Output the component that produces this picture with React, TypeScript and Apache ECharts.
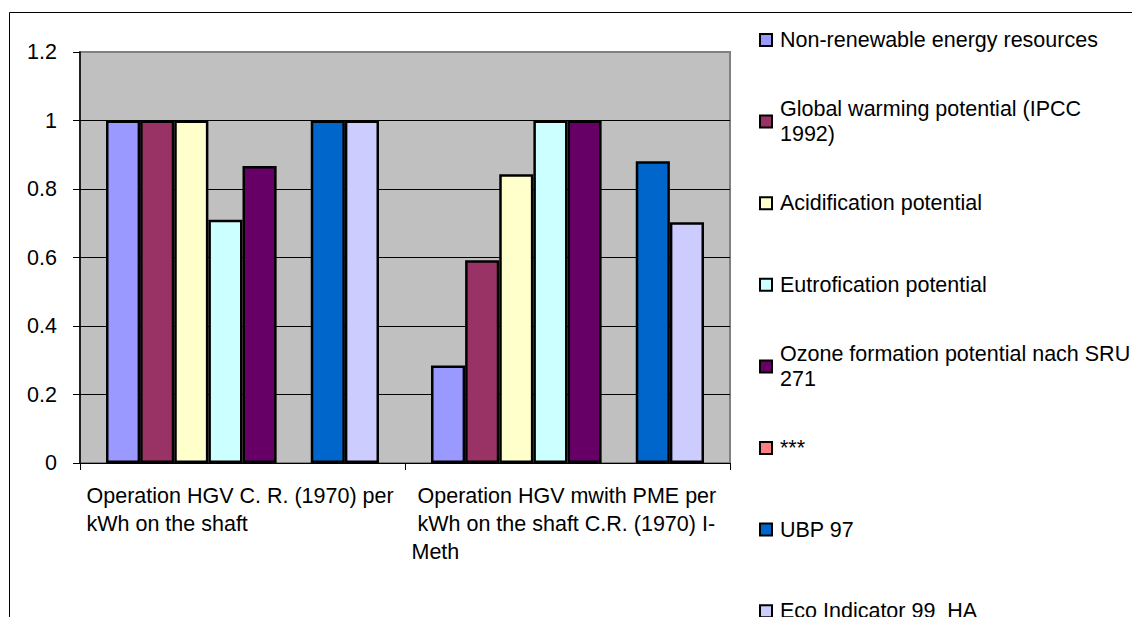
import React, { useEffect, useRef } from "react";
import * as echarts from "echarts";

const categories = [
  "Operation HGV C. R. (1970) per kWh on the shaft",
  "Operation HGV mwith PME per kWh on the shaft C.R. (1970) I-Meth",
];
const categoryLines = [
  ["Operation HGV C. R. (1970) per", "kWh on the shaft"],
  [" Operation HGV mwith PME per", " kWh on the shaft C.R. (1970) I-", "Meth"],
];

const seriesNames = [
  "Non-renewable energy resources",
  "Global warming potential (IPCC 1992)",
  "Acidification potential",
  "Eutrofication potential",
  "Ozone formation potential nach SRU 271",
  "***",
  "UBP 97",
  "Eco Indicator 99  HA",
];
const legendLines = [
  ["Non-renewable energy resources"],
  ["Global warming potential (IPCC", "1992)"],
  ["Acidification potential"],
  ["Eutrofication potential"],
  ["Ozone formation potential nach SRU", "271"],
  ["***"],
  ["UBP 97"],
  ["Eco Indicator 99  HA"],
];
const seriesColors = ["#9999FF", "#993366", "#FFFFCC", "#CCFFFF", "#660066", "#FF8080", "#0066CC", "#CCCCFF"];

const nonRenewable = [1, 0.285];
const globalWarming = [1, 0.592];
const acidification = [1, 0.843];
const eutrofication = [0.71, 1];
const ozoneFormation = [0.867, 1];
const stars: (number | null)[] = [null, null];
const ubp97 = [1, 0.881];
const ecoIndicator = [1, 0.703];
const seriesValues = [nonRenewable, globalWarming, acidification, eutrofication, ozoneFormation, stars, ubp97, ecoIndicator];

const yMin = 0;
const yMax = 1.2;
const yInterval = 0.2;

const FONT = "'Liberation Sans', Arial, sans-serif";
const FS = 21.5;

export default function App() {
  const ref = useRef<HTMLDivElement>(null);
  useEffect(() => {
    if (!ref.current) return;
    const chart = echarts.init(ref.current, null, { renderer: "svg" });
    const option: any = {
      animation: false,
      backgroundColor: "#fff",
      textStyle: { fontFamily: FONT, color: "#000" },
      graphic: [
        {
          type: "rect",
          silent: true,
          z: -10,
          shape: { x: 9.5, y: 12.5, width: 1400, height: 900 },
          style: { fill: "none", stroke: "#000", lineWidth: 1 },
        },
      ],
      grid: {
        left: 80,
        right: 402,
        top: 52,
        bottom: 154,
        show: true,
        backgroundColor: "#C0C0C0",
        borderColor: "#808080",
        borderWidth: 2,
      },
      legend: {
        type: "plain",
        orient: "vertical",
        left: 759,
        top: 2.5,
        width: 373,
        height: 1000,
        padding: 0,
        itemGap: 6.6,
        itemWidth: 12,
        itemHeight: 12,
        icon: "rect",
        selectedMode: false,
        itemStyle: { borderColor: "#000", borderWidth: 2 },
        data: seriesNames.map((n, i) => ({
          name: n,
          textStyle: {
            padding: legendLines[i].length === 2 ? [25, 0, 0, 3] : [25, 0, 25, 3],
          },
        })),
        formatter: (name: string) => legendLines[seriesNames.indexOf(name)].join("\n"),
        textStyle: { fontFamily: FONT, fontSize: FS, lineHeight: 25, color: "#000" },
      },
      xAxis: {
        type: "category",
        data: categories,
        axisLine: { show: true, lineStyle: { color: "#000", width: 1 } },
        axisTick: { show: true, alignWithLabel: false, length: 7, interval: 0, lineStyle: { color: "#000" } },
        splitLine: { show: false },
        axisLabel: {
          interval: 0,
          margin: 19,
          width: 312,
          align: "center",
          verticalAlign: "top",
          formatter: (_v: string, idx: number) =>
            categoryLines[idx]
              .map((l) => (l.startsWith(" ") ? `{b|${l.trim()}}` : `{a|${l}}`))
              .join("\n"),
          rich: {
            a: { align: "left", fontFamily: FONT, fontSize: FS, lineHeight: 28, color: "#000" },
            b: { align: "left", fontFamily: FONT, fontSize: FS, lineHeight: 28, color: "#000", padding: [0, 0, 0, 6] },
          },
        },
      },
      yAxis: {
        type: "value",
        min: yMin,
        max: yMax,
        interval: yInterval,
        axisLine: { show: true, lineStyle: { color: "#000", width: 1.5 } },
        axisTick: { show: true, length: 7, lineStyle: { color: "#000" } },
        axisLabel: { fontFamily: FONT, fontSize: FS, color: "#000", margin: 23 },
        splitLine: { show: true, showMinLine: false, showMaxLine: false, lineStyle: { color: "#000", width: 1 } },
      },
      series: seriesNames.map((n, i) => ({
        name: n,
        type: "bar",
        barGap: "0%",
        barCategoryGap: "16%",
        data: seriesValues[i],
        itemStyle: { color: seriesColors[i], borderColor: "#000", borderWidth: 2.5 },
        emphasis: { disabled: true },
      })),
    };
    chart.setOption(option);
    return () => chart.dispose();
  }, []);
  return (
    <div
      ref={ref}
      style={{ position: "absolute", left: 0, top: 0, width: 1132, height: 617, background: "#fff" }}
    />
  );
}
